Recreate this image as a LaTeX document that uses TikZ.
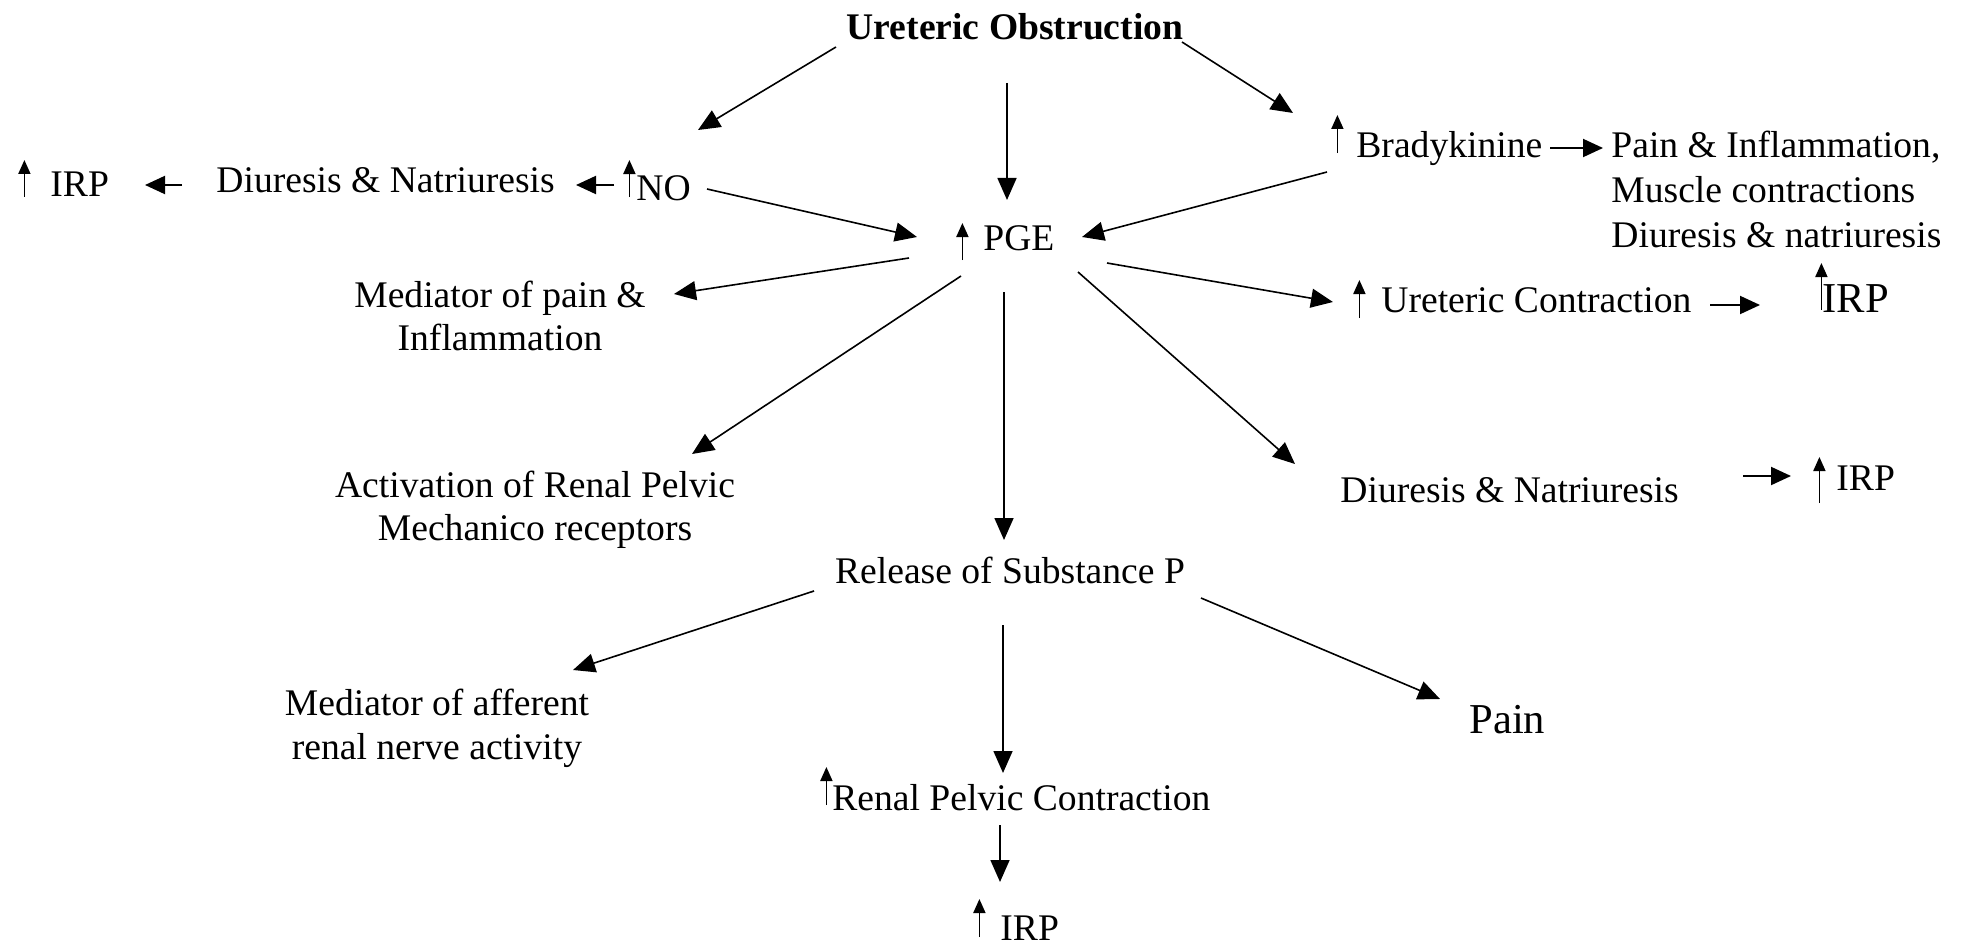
\documentclass[tikz,border=0pt]{standalone}
\usepackage{fontspec}
\setmainfont{Liberation Serif}
\usetikzlibrary{arrows.meta}
\newcommand\uparr[2]{\tikz[baseline=0pt]\draw[line width=0.9pt,-{Triangle[length=7pt,width=6pt]}] (0pt,#1) -- (0pt,#2);}
\tikzset{
  txt/.style={inner sep=0pt, font=\fontsize{18.8pt}{22pt}\selectfont},
  bigtxt/.style={inner sep=0pt, font=\fontsize{21.3pt}{25pt}\selectfont},
  arr/.style={line width=0.8pt, -{Triangle[length=11pt,width=9.5pt]}},
  sarr/.style={line width=1pt, -{Triangle[length=10pt,width=9pt]}},
}
\begin{document}
\begin{tikzpicture}[x=0.5pt,y=-0.5pt]
\fill[white] (0,0) rectangle (1966,947);
\useasboundingbox (0,0) rectangle (1966,947);

% nodes (multi-line nodes are anchored at the baseline of their last line)
\node[txt, anchor=base, font=\fontsize{18.8pt}{22pt}\selectfont\bfseries] (uo) at (1015,40) {Ureteric Obstruction};
\node[txt, anchor=base west] (irpL) at (18,197) {\uparr{0pt}{18.5pt}\hspace{10pt}IRP};
\node[txt, anchor=base west] (diuL) at (216,192) {Diuresis \& Natriuresis};
\node[txt, anchor=base west] (no) at (623,200) {\uparr{1.5pt}{20pt}\hspace{0.5pt}NO};
\node[txt, anchor=base west] (pge) at (956,250) {\uparr{-5pt}{13.5pt}\hspace{7.5pt}PGE};
\node[txt, anchor=base west] (brady) at (1331,157) {\uparr{2pt}{21pt}\hspace{6.5pt}Bradykinine};
\node[txt, anchor=base west, align=left, font=\fontsize{18.8pt}{22.5pt}\selectfont] (bout) at (1611,247) {Pain \& Inflammation,\\Muscle contractions\\Diuresis \& natriuresis};
\node[bigtxt, anchor=base west] (irpTR) at (1815,312) {\uparr{1pt}{24.5pt}\hspace{-2.5pt}IRP};
\node[txt, anchor=base west] (uc) at (1353,312) {\uparr{-3pt}{16pt}\hspace{8pt}Ureteric Contraction};
\node[txt, anchor=base, align=center, font=\fontsize{18.8pt}{21.5pt}\selectfont] (medpain) at (500,350) {Mediator of pain \&\\Inflammation};
\node[txt, anchor=base, align=center, font=\fontsize{18.8pt}{21.5pt}\selectfont] (act) at (535,540) {Activation of Renal Pelvic\\Mechanico receptors};
\node[txt, anchor=base west] (diuR) at (1340,502) {Diuresis \& Natriuresis};
\node[txt, anchor=base west] (irpMR) at (1813,490) {\uparr{-6.5pt}{16.5pt}\hspace{5.5pt}IRP};
\node[txt, anchor=base] (rel) at (1010,583) {Release of Substance P};
\node[txt, anchor=base, align=center] (medaff) at (437,759) {Mediator of afferent\\renal nerve activity};
\node[txt, anchor=base west] (rpc) at (820,810) {\uparr{2.5pt}{21.5pt}Renal Pelvic Contraction};
\node[txt, anchor=base west] (irpB) at (973,940) {\uparr{1.5pt}{20.5pt}\hspace{7.5pt}IRP};
\node[bigtxt, anchor=base west] (pain) at (1469,733) {Pain};

% connector end points
\coordinate (uo-no-s) at (836,47);   \coordinate (uo-no-e) at (698,130);
\coordinate (uo-pge-s) at (1007,83); \coordinate (uo-pge-e) at (1007,200);
\coordinate (uo-br-s) at (1182,42);  \coordinate (uo-br-e) at (1293,113);
\coordinate (no-dl-s) at (614,185);  \coordinate (no-dl-e) at (576,185);
\coordinate (dl-il-s) at (182,185);  \coordinate (dl-il-e) at (145,185);
\coordinate (no-pge-s) at (707,189); \coordinate (no-pge-e) at (917,237);
\coordinate (br-pge-s) at (1327,172); \coordinate (br-pge-e) at (1082,237);
\coordinate (br-bo-s) at (1550,148); \coordinate (br-bo-e) at (1603,148);
\coordinate (pge-mp-s) at (909,258); \coordinate (pge-mp-e) at (674,294);
\coordinate (pge-uc-s) at (1107,263); \coordinate (pge-uc-e) at (1333,302);
\coordinate (uc-ir-s) at (1710,305); \coordinate (uc-ir-e) at (1760,305);
\coordinate (pge-ac-s) at (961,276); \coordinate (pge-ac-e) at (692,454);
\coordinate (pge-dr-s) at (1078,272); \coordinate (pge-dr-e) at (1295,464);
\coordinate (pge-rel-s) at (1004,292); \coordinate (pge-rel-e) at (1004,540);
\coordinate (dr-im-s) at (1743,476); \coordinate (dr-im-e) at (1791,476);
\coordinate (rel-ma-s) at (814,591); \coordinate (rel-ma-e) at (573,670);
\coordinate (rel-rp-s) at (1003,625); \coordinate (rel-rp-e) at (1003,773);
\coordinate (rel-pa-s) at (1201,598); \coordinate (rel-pa-e) at (1440,699);
\coordinate (rp-ib-s) at (1000,825); \coordinate (rp-ib-e) at (1000,882);

% connectors
\draw[arr] (uo-no-s) -- (uo-no-e);
\draw[arr] (uo-pge-s) -- (uo-pge-e);
\draw[arr] (uo-br-s) -- (uo-br-e);
\draw[sarr] (no-dl-s) -- (no-dl-e);
\draw[sarr] (dl-il-s) -- (dl-il-e);
\draw[arr] (no-pge-s) -- (no-pge-e);
\draw[arr] (br-pge-s) -- (br-pge-e);
\draw[sarr] (br-bo-s) -- (br-bo-e);
\draw[arr] (pge-mp-s) -- (pge-mp-e);
\draw[arr] (pge-uc-s) -- (pge-uc-e);
\draw[sarr] (uc-ir-s) -- (uc-ir-e);
\draw[arr] (pge-ac-s) -- (pge-ac-e);
\draw[arr] (pge-dr-s) -- (pge-dr-e);
\draw[arr] (pge-rel-s) -- (pge-rel-e);
\draw[sarr] (dr-im-s) -- (dr-im-e);
\draw[arr] (rel-ma-s) -- (rel-ma-e);
\draw[arr] (rel-rp-s) -- (rel-rp-e);
\draw[arr] (rel-pa-s) -- (rel-pa-e);
\draw[arr] (rp-ib-s) -- (rp-ib-e);
\end{tikzpicture}
\end{document}
